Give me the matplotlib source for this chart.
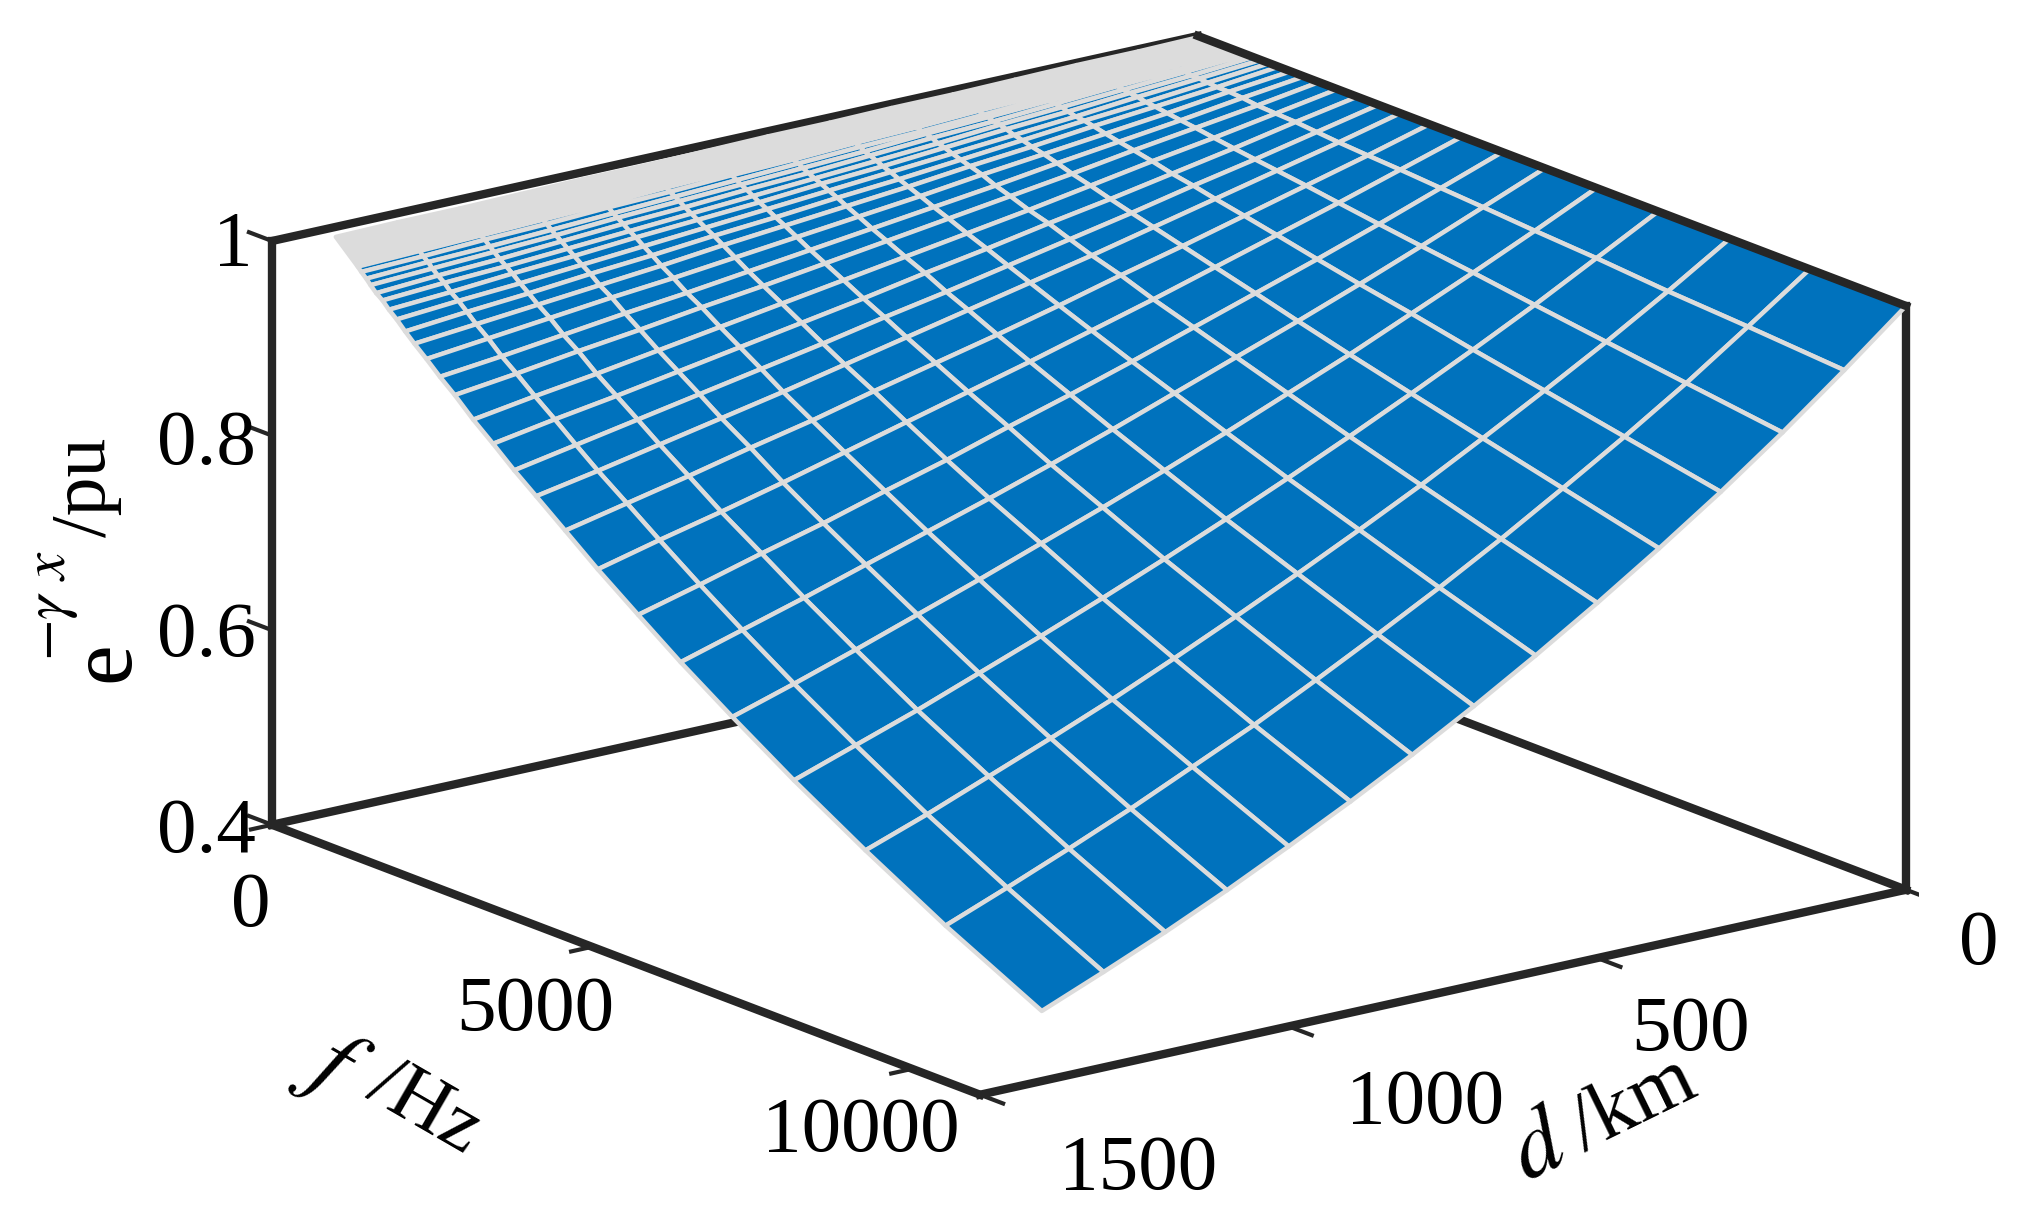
"""
Attenuation surface e^(-gamma x) over line length d and frequency f.
"""
import numpy as np
import matplotlib
matplotlib.use("Agg")
import matplotlib.pyplot as plt
from mpl_toolkits.mplot3d import proj3d

plt.rcParams["font.family"] = ["Liberation Serif", "DejaVu Serif"]
plt.rcParams["mathtext.fontset"] = "stix"

W, H = 2032, 1222
BLUE = "#0072BD"
GRID = "#DCDCDC"
DARK = "#262626"

d_lim = (0, 1500)
f_lim = (0, 11060)
z_lim = (0.4, 1.0)
d_ticks = [0, 500, 1000, 1500]
f_ticks = [0, 5000, 10000]
z_ticks = [0.4, 0.6, 0.8, 1.0]

d_vals = [0, 100, 200, 300, 400, 500, 600, 700, 800, 900, 1000, 1100, 1200, 1300, 1400]
f_vals = [33, 376, 431, 509, 575, 664, 763, 863, 984, 1117, 1261, 1449, 1659, 1891,
          2179, 2489, 2820, 3163, 3617, 4125, 4756, 5419, 6227, 7189, 8306, 9556, 11060]

# one row per frequency, one column per length
z_vals = [
    [1, .999, .999, .998, .997, .997, .996, .996, .995, .994, .994, .993, .992, .992, .991],
    [1, .998, .995, .993, .991, .989, .986, .984, .982, .980, .977, .975, .973, .971, .969],
    [1, .997, .995, .992, .990, .987, .985, .982, .980, .977, .975, .972, .970, .967, .965],
    [1, .997, .994, .991, .988, .985, .983, .980, .977, .974, .971, .968, .965, .963, .960],
    [1, .997, .993, .990, .987, .984, .980, .977, .974, .971, .968, .964, .961, .958, .955],
    [1, .996, .993, .989, .985, .982, .978, .974, .971, .967, .964, .960, .956, .953, .949],
    [1, .996, .992, .988, .984, .979, .975, .971, .967, .963, .959, .955, .951, .948, .944],
    [1, .995, .991, .986, .982, .977, .972, .968, .963, .959, .955, .950, .946, .941, .937],
    [1, .995, .990, .984, .979, .974, .969, .964, .959, .954, .949, .944, .939, .935, .930],
    [1, .994, .988, .983, .977, .971, .965, .960, .954, .949, .943, .938, .932, .927, .921],
    [1, .993, .987, .981, .974, .968, .961, .955, .949, .943, .936, .930, .924, .918, .912],
    [1, .993, .985, .978, .971, .964, .956, .949, .942, .935, .928, .922, .915, .908, .901],
    [1, .992, .983, .975, .967, .958, .950, .942, .934, .926, .918, .911, .903, .895, .888],
    [1, .990, .981, .972, .962, .953, .944, .935, .926, .917, .909, .900, .892, .883, .875],
    [1, .989, .978, .968, .957, .946, .936, .926, .916, .906, .896, .886, .876, .867, .857],
    [1, .988, .975, .963, .951, .940, .928, .917, .905, .894, .883, .872, .861, .851, .840],
    [1, .986, .972, .959, .945, .932, .919, .906, .894, .881, .869, .857, .845, .833, .821],
    [1, .984, .969, .954, .939, .924, .910, .896, .882, .868, .854, .841, .828, .815, .803],
    [1, .982, .965, .948, .931, .915, .898, .882, .867, .852, .836, .822, .807, .793, .779],
    [1, .980, .960, .941, .922, .903, .885, .867, .850, .833, .816, .799, .783, .768, .752],
    [1, .977, .954, .932, .911, .890, .869, .849, .830, .810, .792, .773, .756, .738, .721],
    [1, .974, .948, .923, .899, .876, .853, .830, .808, .787, .767, .747, .727, .708, .689],
    [1, .970, .941, .913, .885, .859, .833, .808, .784, .761, .738, .716, .694, .673, .653],
    [1, .966, .932, .900, .869, .839, .810, .782, .755, .729, .704, .680, .656, .634, .612],
    [1, .960, .922, .886, .851, .817, .785, .754, .724, .695, .667, .641, .616, .591, .568],
    [1, .955, .911, .870, .831, .793, .757, .723, .690, .658, .629, .600, .573, .547, .522],
    [1, .948, .898, .851, .807, .765, .725, .687, .651, .617, .585, .554, .525, .498, .472],
]

# text: string, x px, y px, rotation, size
labels = [
    ("1", 233, 246, 0, 57), ("0.8", 206, 445, 0, 57), ("0.6", 206, 637, 0, 57), ("0.4", 206, 833, 0, 57),
    ("0", 251, 907, 0, 57), ("5000", 535, 1011, 0, 57), ("10000", 861, 1132, 0, 57),
    ("0", 1979, 945, 0, 57), ("500", 1691, 1031, 0, 57), ("1000", 1425, 1104, 0, 57), ("1500", 1138, 1170, 0, 57),
    (r"$f$", 332, 1068, -30, 70), ("/Hz", 425, 1108, -30, 58),
    (r"$d$", 1540, 1150, 26, 68), ("/km", 1634, 1106, 26, 60),
    ("e", 106, 662, 90, 66), (r"$-\gamma\ x$", 52, 606, 90, 44), ("/pu", 86, 487, 90, 56),
]

fig = plt.figure(figsize=(W / 100, H / 100), dpi=100, facecolor="white")
ax = fig.add_axes([0, 0, 1, 1], projection="3d", proj_type="ortho", computed_zorder=False)
ax.view_init(elev=16.89, azim=52.69)
ax.set_box_aspect((1164, 1168, 610))
ax.set_axis_off()

D, F = np.meshgrid(d_vals, f_vals)
Z = np.array(z_vals)
# the lowest frequencies merge into a solid grey strip
style = dict(rstride=1, cstride=1, edgecolor=GRID, linewidth=3.2, shade=False, zorder=3)
ax.plot_surface(D[:2], F[:2], Z[:2], color=GRID, **style)
ax.plot_surface(D[1:], F[1:], Z[1:], color=BLUE, **style)

d0, d1 = d_lim
f0, f1 = f_lim
z0, z1 = z_lim
line = dict(color=DARK, linewidth=6, solid_capstyle="projecting")
ax.plot([d1, d1], [f0, f0], [z0, z1], zorder=1, **line)
ax.plot([d0, d0], [f1, f1], [z0, z1], zorder=1, **line)
ax.plot([d0, d1], [f0, f0], [z1, z1], zorder=1, **line)
ax.plot([d0, d0], [f0, f1], [z1, z1], zorder=4, **line)
ax.plot([d0, d1], [f0, f0], [z0, z0], zorder=1, **line)
ax.plot([d0, d0], [f0, f1], [z0, z0], zorder=1, **line)
ax.plot([d1, d1], [f0, f1], [z0, z0], zorder=1, **line)
ax.plot([d0, d1], [f1, f1], [z0, z0], zorder=1, **line)

tick = dict(color=DARK, linewidth=3)
f_tick_len = 360
d_tick_len = 34
for z in z_ticks:
    ax.plot([d1, d1], [f0, f0 - f_tick_len], [z, z], zorder=1, **tick)
for f in f_ticks:
    ax.plot([d1, d1 + d_tick_len], [f, f], [z0, z0], zorder=1, **tick)
for d in d_ticks:
    ax.plot([d, d], [f1, f1 + f_tick_len], [z0, z0], zorder=1, **tick)

ax.set_xlim(d_lim)
ax.set_ylim(f_lim)
ax.set_zlim(z_lim)


def corner_px(d, f, z):
    x, y, _ = proj3d.proj_transform(d, f, z, ax.get_proj())
    return ax.transData.transform((x, y))


# size and place the square 3d axes so the box corners land where they should
ax.set_position([0.1, 0.5 - 0.4 * W / H, 0.8, 0.8 * W / H])
fig.canvas.draw()
size = 0.8 * W
a, b = corner_px(d1, f0, z1), corner_px(d0, f1, z0)
size *= (1906 - 272) / (b[0] - a[0])
ax.set_position([0.5 - size / W / 2, 0.5 - size / H / 2, size / W, size / H])
fig.canvas.draw()
a = corner_px(d1, f0, z1)
shift_x = 272 - a[0]
shift_y = (H - 241) - a[1]
ax.set_position([0.5 - size / W / 2 + shift_x / W, 0.5 - size / H / 2 + shift_y / H, size / W, size / H])

for text, x, y, rot, fs in labels:
    fig.text(x / W, 1 - y / H, text, ha="center", va="center", rotation=rot,
             rotation_mode="anchor", fontsize=fs, color="black")

fig.savefig("out.png", dpi=100, facecolor="white")
plt.close(fig)
